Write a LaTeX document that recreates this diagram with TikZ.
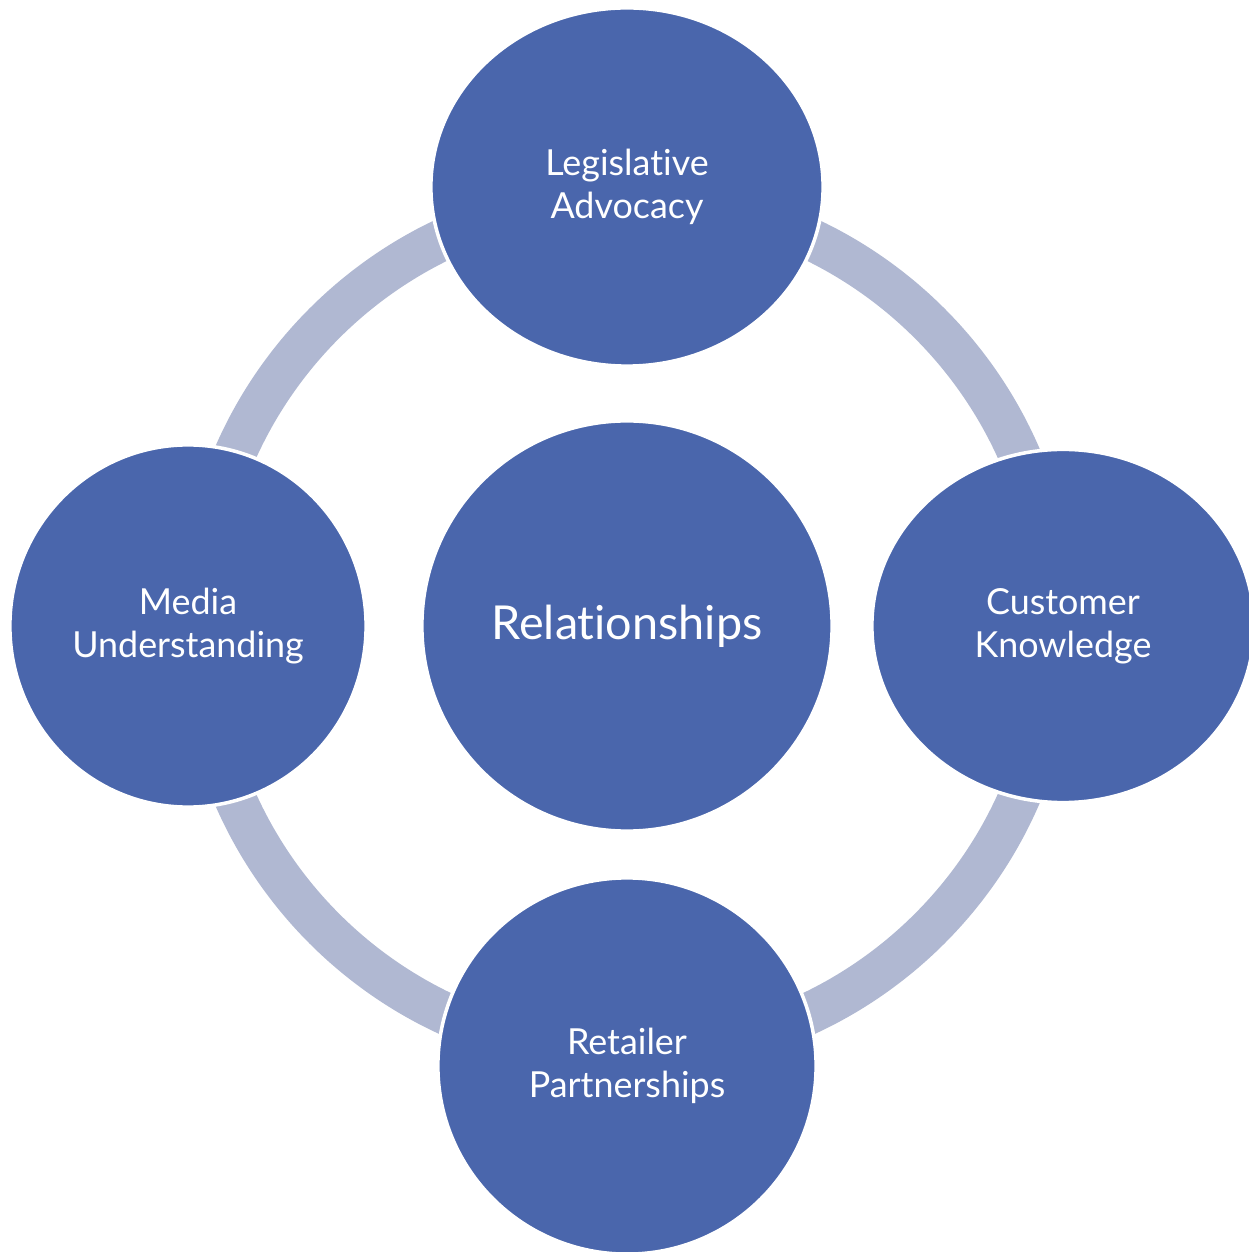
\documentclass[tikz,border=0pt]{standalone}
\usepackage{fontspec}
\setmainfont{Lato}[Ligatures=NoCommon]
\usetikzlibrary{shapes.geometric}

\definecolor{cycleblue}{HTML}{4A66AC}
\definecolor{ringgray}{HTML}{B0B8D2}

\begin{document}
\begin{tikzpicture}[
    x=0.01cm, y=0.01cm,
    bubble/.style={ellipse, fill=cycleblue, draw=white, line width=1pt, inner sep=0pt,
                   align=center, text=white, font=\fontsize{10.2}{12.2}\selectfont},
    hub/.style={bubble, minimum width=4.1cm, minimum height=4.1cm, font=\fontsize{13.3}{16}\selectfont},
    ring/.style={ringgray, line width=0.42cm}
]
\useasboundingbox (-627,-626) rectangle (622,626);

% ring behind the outer bubbles
\draw[ring] (0,0) circle (428);

\node[hub] (rel) at (0,0) {Relationships};

\node[bubble, minimum width=3.92cm, minimum height=3.58cm] (legis)    at (0,   439) {Legislative\\Advocacy};
\node[bubble, minimum width=3.82cm, minimum height=3.53cm] (customer) at (436,   0) {Customer\\Knowledge};
\node[bubble, minimum width=3.78cm, minimum height=3.76cm] (retail)   at (0,  -440) {Retailer\\Partnerships};
\node[bubble, minimum width=3.56cm, minimum height=3.62cm] (media)    at (-439,  0) {Media\\Understanding};
\end{tikzpicture}
\end{document}
